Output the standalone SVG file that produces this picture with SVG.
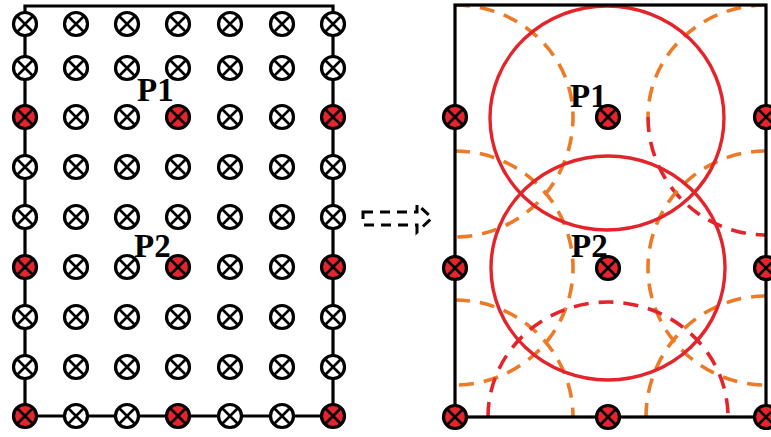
<svg xmlns="http://www.w3.org/2000/svg" xmlns:xlink="http://www.w3.org/1999/xlink" width="771" height="437" viewBox="0 0 771 437">
  <style>
    .wire { fill: none; stroke: #000; stroke-width: 3.2; }
    .off { fill: #fff; stroke: #000; stroke-width: 3.2; }
    .on { fill: #e5242b; stroke: #000; stroke-width: 3.2; }
    .x { fill: none; stroke: #000; stroke-width: 2.6; }
    .lbl { font-family: "Liberation Serif", "Times New Roman", serif; font-weight: bold; font-size: 33px; fill: #000; }
    .solid { fill: none; stroke: #e3242b; stroke-width: 3.4; }
    .dash-o { fill: none; stroke: #ec7a27; stroke-width: 3.6; stroke-dasharray: 15 10; }
    .dash-r { fill: none; stroke: #e3242b; stroke-width: 3.6; stroke-dasharray: 15 10; }
    .arrow { fill: none; stroke: #000; stroke-width: 3; stroke-dasharray: 10 7; }
  </style>
  <defs>
    <path id="cross" class="x" d="M-8,-8L8,8M8,-8L-8,8"/>
    <clipPath id="field">
      <rect x="455" y="5" width="311" height="412"/>
    </clipPath>
  </defs>

  <rect width="771" height="437" fill="#fff"/>

  <!-- wiring of the left grid (boundary chain) -->
  <g id="connectors">
    <path class="wire" d="M25,416 V6 H333 V416 H25"/>
    <!-- dashed transition arrow -->
    <path class="arrow" d="M363,212 H417 V204 L432,218 L417,232 V225 H363 Z"/>
  </g>

  <!-- left grid: 7 columns x 9 rows of sensors -->
  <g id="grid">
    <g id="n1-1" transform="translate(25,24)"><circle r="11.5" class="off"/><use href="#cross"/></g>
    <g id="n1-2" transform="translate(76,24)"><circle r="11.5" class="off"/><use href="#cross"/></g>
    <g id="n1-3" transform="translate(127,24)"><circle r="11.5" class="off"/><use href="#cross"/></g>
    <g id="n1-4" transform="translate(178,24)"><circle r="11.5" class="off"/><use href="#cross"/></g>
    <g id="n1-5" transform="translate(230,24)"><circle r="11.5" class="off"/><use href="#cross"/></g>
    <g id="n1-6" transform="translate(282,24)"><circle r="11.5" class="off"/><use href="#cross"/></g>
    <g id="n1-7" transform="translate(333,24)"><circle r="11.5" class="off"/><use href="#cross"/></g>

    <g id="n2-1" transform="translate(25,68)"><circle r="11.5" class="off"/><use href="#cross"/></g>
    <g id="n2-2" transform="translate(76,68)"><circle r="11.5" class="off"/><use href="#cross"/></g>
    <g id="n2-3" transform="translate(127,68)"><circle r="11.5" class="off"/><use href="#cross"/></g>
    <g id="n2-4" transform="translate(178,68)"><circle r="11.5" class="off"/><use href="#cross"/></g>
    <g id="n2-5" transform="translate(230,68)"><circle r="11.5" class="off"/><use href="#cross"/></g>
    <g id="n2-6" transform="translate(282,68)"><circle r="11.5" class="off"/><use href="#cross"/></g>
    <g id="n2-7" transform="translate(333,68)"><circle r="11.5" class="off"/><use href="#cross"/></g>

    <g id="n3-1" transform="translate(25,117)"><circle r="11.5" class="on"/><use href="#cross"/></g>
    <g id="n3-2" transform="translate(76,117)"><circle r="11.5" class="off"/><use href="#cross"/></g>
    <g id="n3-3" transform="translate(127,117)"><circle r="11.5" class="off"/><use href="#cross"/></g>
    <g id="n3-4" transform="translate(178,117)"><circle r="11.5" class="on"/><use href="#cross"/></g>
    <g id="n3-5" transform="translate(230,117)"><circle r="11.5" class="off"/><use href="#cross"/></g>
    <g id="n3-6" transform="translate(282,117)"><circle r="11.5" class="off"/><use href="#cross"/></g>
    <g id="n3-7" transform="translate(333,117)"><circle r="11.5" class="on"/><use href="#cross"/></g>

    <g id="n4-1" transform="translate(25,167)"><circle r="11.5" class="off"/><use href="#cross"/></g>
    <g id="n4-2" transform="translate(76,167)"><circle r="11.5" class="off"/><use href="#cross"/></g>
    <g id="n4-3" transform="translate(127,167)"><circle r="11.5" class="off"/><use href="#cross"/></g>
    <g id="n4-4" transform="translate(178,167)"><circle r="11.5" class="off"/><use href="#cross"/></g>
    <g id="n4-5" transform="translate(230,167)"><circle r="11.5" class="off"/><use href="#cross"/></g>
    <g id="n4-6" transform="translate(282,167)"><circle r="11.5" class="off"/><use href="#cross"/></g>
    <g id="n4-7" transform="translate(333,167)"><circle r="11.5" class="off"/><use href="#cross"/></g>

    <g id="n5-1" transform="translate(25,217)"><circle r="11.5" class="off"/><use href="#cross"/></g>
    <g id="n5-2" transform="translate(76,217)"><circle r="11.5" class="off"/><use href="#cross"/></g>
    <g id="n5-3" transform="translate(127,217)"><circle r="11.5" class="off"/><use href="#cross"/></g>
    <g id="n5-4" transform="translate(178,217)"><circle r="11.5" class="off"/><use href="#cross"/></g>
    <g id="n5-5" transform="translate(230,217)"><circle r="11.5" class="off"/><use href="#cross"/></g>
    <g id="n5-6" transform="translate(282,217)"><circle r="11.5" class="off"/><use href="#cross"/></g>
    <g id="n5-7" transform="translate(333,217)"><circle r="11.5" class="off"/><use href="#cross"/></g>

    <g id="n6-1" transform="translate(25,267)"><circle r="11.5" class="on"/><use href="#cross"/></g>
    <g id="n6-2" transform="translate(76,267)"><circle r="11.5" class="off"/><use href="#cross"/></g>
    <g id="n6-3" transform="translate(127,267)"><circle r="11.5" class="off"/><use href="#cross"/></g>
    <g id="n6-4" transform="translate(178,267)"><circle r="11.5" class="on"/><use href="#cross"/></g>
    <g id="n6-5" transform="translate(230,267)"><circle r="11.5" class="off"/><use href="#cross"/></g>
    <g id="n6-6" transform="translate(282,267)"><circle r="11.5" class="off"/><use href="#cross"/></g>
    <g id="n6-7" transform="translate(333,267)"><circle r="11.5" class="on"/><use href="#cross"/></g>

    <g id="n7-1" transform="translate(25,317)"><circle r="11.5" class="off"/><use href="#cross"/></g>
    <g id="n7-2" transform="translate(76,317)"><circle r="11.5" class="off"/><use href="#cross"/></g>
    <g id="n7-3" transform="translate(127,317)"><circle r="11.5" class="off"/><use href="#cross"/></g>
    <g id="n7-4" transform="translate(178,317)"><circle r="11.5" class="off"/><use href="#cross"/></g>
    <g id="n7-5" transform="translate(230,317)"><circle r="11.5" class="off"/><use href="#cross"/></g>
    <g id="n7-6" transform="translate(282,317)"><circle r="11.5" class="off"/><use href="#cross"/></g>
    <g id="n7-7" transform="translate(333,317)"><circle r="11.5" class="off"/><use href="#cross"/></g>

    <g id="n8-1" transform="translate(25,367)"><circle r="11.5" class="off"/><use href="#cross"/></g>
    <g id="n8-2" transform="translate(76,367)"><circle r="11.5" class="off"/><use href="#cross"/></g>
    <g id="n8-3" transform="translate(127,367)"><circle r="11.5" class="off"/><use href="#cross"/></g>
    <g id="n8-4" transform="translate(178,367)"><circle r="11.5" class="off"/><use href="#cross"/></g>
    <g id="n8-5" transform="translate(230,367)"><circle r="11.5" class="off"/><use href="#cross"/></g>
    <g id="n8-6" transform="translate(282,367)"><circle r="11.5" class="off"/><use href="#cross"/></g>
    <g id="n8-7" transform="translate(333,367)"><circle r="11.5" class="off"/><use href="#cross"/></g>

    <g id="n9-1" transform="translate(25,416)"><circle r="11.5" class="on"/><use href="#cross"/></g>
    <g id="n9-2" transform="translate(76,416)"><circle r="11.5" class="off"/><use href="#cross"/></g>
    <g id="n9-3" transform="translate(127,416)"><circle r="11.5" class="off"/><use href="#cross"/></g>
    <g id="n9-4" transform="translate(178,416)"><circle r="11.5" class="on"/><use href="#cross"/></g>
    <g id="n9-5" transform="translate(230,416)"><circle r="11.5" class="off"/><use href="#cross"/></g>
    <g id="n9-6" transform="translate(282,416)"><circle r="11.5" class="off"/><use href="#cross"/></g>
    <g id="n9-7" transform="translate(333,416)"><circle r="11.5" class="on"/><use href="#cross"/></g>
  </g>

  <text class="lbl" x="137" y="101">P1</text>
  <text class="lbl" x="134" y="257">P2</text>

  <!-- right field: coverage ranges of the selected sensors -->
  <g id="ranges" clip-path="url(#field)">
    <path class="dash-o" d="M455,5 A118,112 0 0 1 573,117 A118,120 0 0 1 455,237"/>
    <path class="dash-o" d="M766,5 A118,112 0 0 0 648,117"/>
    <path class="dash-r" d="M648,117 A118,118 0 0 0 766,235"/>
    <path class="dash-o" d="M455,151 A118,117 0 0 1 455,385"/>
    <path class="dash-o" d="M766,151 A118,117 0 0 0 766,385"/>
    <path class="dash-o" d="M455,300 A118,117 0 0 1 573,417"/>
    <path class="dash-r" d="M488,417 A120,115 0 0 1 728,417"/>
    <path class="dash-o" d="M766,296 A120,121 0 0 0 646,417"/>
    <ellipse class="solid" cx="607" cy="118" rx="117" ry="112"/>
    <ellipse class="solid" cx="608" cy="268" rx="117" ry="112"/>
  </g>

  <rect id="field-border" class="wire" x="455" y="5" width="311" height="412"/>

  <g id="s-a" transform="translate(455,117)"><circle r="11.5" class="on"/><use href="#cross"/></g>
  <g id="s-b" transform="translate(608,117)"><circle r="11.5" class="on"/><use href="#cross"/></g>
  <g id="s-c" transform="translate(766,117)"><circle r="11.5" class="on"/><use href="#cross"/></g>
  <g id="s-d" transform="translate(455,268)"><circle r="11.5" class="on"/><use href="#cross"/></g>
  <g id="s-e" transform="translate(608,268)"><circle r="11.5" class="on"/><use href="#cross"/></g>
  <g id="s-f" transform="translate(766,268)"><circle r="11.5" class="on"/><use href="#cross"/></g>
  <g id="s-g" transform="translate(455,417)"><circle r="11.5" class="on"/><use href="#cross"/></g>
  <g id="s-h" transform="translate(608,417)"><circle r="11.5" class="on"/><use href="#cross"/></g>
  <g id="s-i" transform="translate(766,417)"><circle r="11.5" class="on"/><use href="#cross"/></g>

  <text class="lbl" x="570" y="107">P1</text>
  <text class="lbl" x="571" y="257">P2</text>
</svg>
